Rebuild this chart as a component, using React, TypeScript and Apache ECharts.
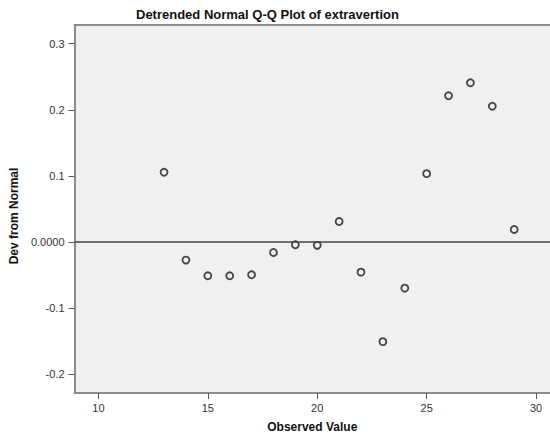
import React, { useEffect, useRef } from "react";
import * as echarts from "echarts";

const observed = [13, 14, 15, 16, 17, 18, 19, 20, 21, 22, 23, 24, 25, 26, 27, 28, 29];
const deviation = [
  0.1055, -0.0273, -0.051, -0.051, -0.0495, -0.0157, -0.0041, -0.005, 0.031,
  -0.0455, -0.1506, -0.0697, 0.1035, 0.2212, 0.2409, 0.2055, 0.019,
];
const xTicks = [10, 15, 20, 25, 30];
const yTicks = [-0.2, -0.1, 0, 0.1, 0.2, 0.3];

const FONT = "'Liberation Sans', Arial, sans-serif";
const X_MIN = 8.91;
const X_MAX = 30.636;

export default function App() {
  const ref = useRef<HTMLDivElement>(null);
  useEffect(() => {
    document.body.style.margin = "0";
    document.body.style.overflow = "hidden";
    const chart = echarts.init(ref.current!, null, { renderer: "svg" });
    chart.setOption({
      animation: false,
      backgroundColor: "#ffffff",
      title: {
        text: "Detrended Normal Q-Q Plot of extravertion",
        left: 131,
        top: 3,
        textStyle: { fontFamily: FONT, fontSize: 13, fontWeight: "bold", color: "#111" },
      },
      grid: {
        left: 72,
        top: 25,
        right: 0,
        bottom: 49,
        show: true,
        backgroundColor: "#f0f0f0",
        borderWidth: 0,
      },
      xAxis: [
        {
          type: "value",
          min: X_MIN,
          max: X_MAX,
          name: "Observed Value",
          nameLocation: "middle",
          nameGap: 28,
          nameTextStyle: { fontFamily: FONT, fontSize: 12, fontWeight: "bold", color: "#111" },
          axisLine: { show: true, onZero: false, lineStyle: { color: "#8c8c8c", width: 2 } },
          axisTick: {
            show: true,
            length: 6,
            customValues: xTicks,
            lineStyle: { color: "#555", width: 1 },
          },
          axisLabel: {
            customValues: xTicks,
            margin: 9,
            fontFamily: FONT,
            fontSize: 11,
            color: "#333",
          },
          splitLine: { show: false },
        },
        {
          type: "value",
          position: "top",
          min: X_MIN,
          max: X_MAX,
          axisLine: { show: true, onZero: false, lineStyle: { color: "#8c8c8c", width: 2 } },
          axisTick: { show: false },
          axisLabel: { show: false },
          splitLine: { show: false },
        },
      ],
      yAxis: {
        type: "value",
        min: -0.2283,
        max: 0.3283,
        name: "Dev from Normal",
        nameLocation: "middle",
        nameGap: 46,
        nameTextStyle: {
          fontFamily: FONT,
          fontSize: 12,
          fontWeight: "bold",
          color: "#111",
          padding: [0, 14, 0, 0],
        },
        axisLine: { show: true, lineStyle: { color: "#8c8c8c", width: 2 } },
        axisTick: {
          show: true,
          length: 6,
          customValues: yTicks,
          lineStyle: { color: "#555", width: 1 },
        },
        axisLabel: {
          customValues: yTicks,
          margin: 10,
          fontFamily: FONT,
          fontSize: 11,
          color: "#333",
          formatter: (v: number) => (Math.abs(v) < 1e-9 ? "0.0000" : v.toFixed(1)),
        },
        splitLine: { show: false },
      },
      series: [
        {
          type: "scatter",
          xAxisIndex: 0,
          data: observed.map((x, i) => [x, deviation[i]]),
          symbol: "circle",
          symbolSize: 7,
          itemStyle: { color: "transparent", borderColor: "#1a1a1a", borderWidth: 1.8 },
          markLine: {
            silent: true,
            symbol: "none",
            label: { show: false },
            lineStyle: { color: "#444", width: 1.5, type: "solid" },
            data: [{ yAxis: 0 }],
          },
        },
      ],
    });
    return () => chart.dispose();
  }, []);
  return <div ref={ref} style={{ width: 550, height: 442 }} />;
}
